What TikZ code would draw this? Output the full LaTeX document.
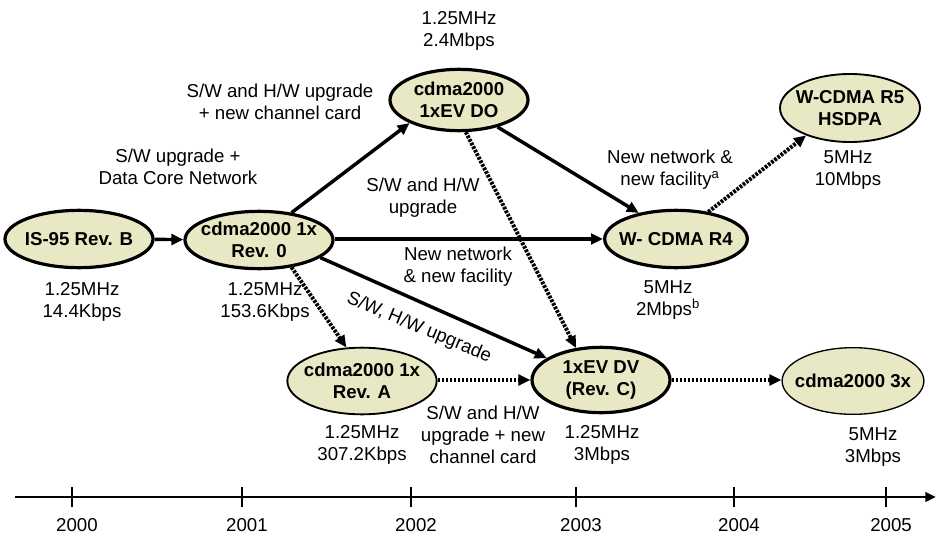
\documentclass[tikz,border=0pt]{standalone}
\usepackage{fontspec}
\setmainfont{Liberation Sans}
\usetikzlibrary{shapes.geometric,arrows.meta}
\definecolor{khaki}{RGB}{233,232,196}
\begin{document}
\begin{tikzpicture}[x=0.75pt,y=-0.75pt,
  every node/.style={font=\fontsize{14}{16.5}\selectfont},
  state/.style={ellipse, draw, fill=khaki, line width=2.4pt, align=center,
    inner xsep=-6pt, inner ysep=-4pt,
    font=\fontsize{14}{16.5}\selectfont\bfseries},
  thinstate/.style={state, line width=1.4pt},
  lbl/.style={align=center, inner sep=0pt},
  solidarrow/.style={line width=2.6pt, -{Triangle[length=9pt,width=8pt]}},
  dotarrow/.style={line width=3pt, dash pattern=on 2pt off 1pt, -{Triangle[length=9pt,width=8pt]}},
  tickmark/.style={line width=1pt}
]
\useasboundingbox (0,0) rectangle (938,535);

% states
\node[state, minimum width=111pt, minimum height=43pt] (is95) at (79,239) {IS-95 Rev. B};
\node[state, minimum width=111pt, minimum height=43pt] (rev0) at (259,240) {cdma2000 1x\\Rev. 0};
\node[state, minimum width=103.5pt, minimum height=46pt] (evdo) at (459,100) {cdma2000\\1xEV DO};
\node[state, minimum width=107pt, minimum height=43pt] (r4) at (676,239) {W- CDMA R4};
\node[thinstate, minimum width=105pt, minimum height=51pt] (r5) at (850,108) {W-CDMA R5\\HSDPA};
\node[thinstate, minimum width=112pt, minimum height=50pt] (reva) at (362,381) {cdma2000 1x\\Rev. A};
\node[state, minimum width=103.5pt, minimum height=49pt] (dv) at (601,380) {1xEV DV\\(Rev. C)};
\node[state, line width=1pt, minimum width=105pt, minimum height=50pt, font=\fontsize{14}{16.5}\selectfont] (cx3) at (853,381) {\textbf{cdma2000 3x}};

% connectors
\draw[solidarrow] (is95) -- (rev0);
\draw[solidarrow] (rev0.40) -- (evdo.205);
\draw[solidarrow] (rev0.east |- r4) -- (r4);
\draw[solidarrow] (rev0.-16) -- (dv.158);
\draw[dotarrow] (rev0.-40) -- (reva.115);
\draw[solidarrow] (evdo.-35) -- (r4.145);
\draw[dotarrow] (evdo.-78) -- (dv.128);
\draw[dotarrow] (r4.40) -- (r5.212);
\draw[dotarrow] (reva.east |- dv) -- (dv);
\draw[dotarrow] (dv) -- (cx3.west |- dv);

% labels
\node[lbl] (l1) at (459,31) {1.25MHz\\2.4Mbps};
\node[lbl] (l2) at (280,102) {S/W and H/W upgrade\\+ new channel card};
\node[lbl] (l3) at (178,167) {S/W upgrade +\\Data Core Network};
\node[lbl] (l4) at (423,198) {S/W and H/W\\upgrade};
\node[lbl] (l5) at (458,267) {New network\\\& new facility};
\node[lbl] (l6) at (670,170) {New network \&\\new facility\textsuperscript{a}};
\node[lbl] (l7) at (848,170) {5MHz\\10Mbps};
\node[lbl] (l8) at (82,302) {1.25MHz\\14.4Kbps};
\node[lbl] (l9) at (265,302) {1.25MHz\\153.6Kbps};
\node[lbl] (l10) at (668,300) {5MHz\\2Mbps\textsuperscript{b}};
\node[lbl, rotate=-22.5] (l11) at (419,328) {S/W, H/W upgrade};
\node[lbl] (l12) at (362,445) {1.25MHz\\307.2Kbps};
\node[lbl] (l13) at (483,435) {S/W and H/W\\upgrade + new\\channel card};
\node[lbl] (l14) at (602,445) {1.25MHz\\3Mbps};
\node[lbl] (l15) at (873,447) {5MHz\\3Mbps};

% time axis
\coordinate (ax0) at (15,497);
\coordinate (ax1) at (936,497);
\draw[line width=2.2pt, -{Triangle[length=8pt,width=7pt]}] (ax0) -- (ax1);
\foreach \xx/\yr in {72/2000,242/2001,411/2002,576/2003,734/2004,886/2005}{
  \draw[tickmark] (\xx,487) -- (\xx,507);
  \node[lbl] (y\yr) at (\xx+5,525) {\yr};
}
\end{tikzpicture}
\end{document}
